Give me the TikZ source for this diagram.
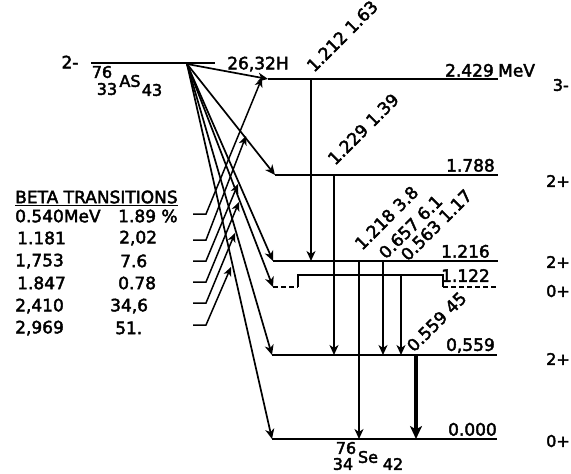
\documentclass[tikz,border=0pt]{standalone}
\usepackage{fontspec}
\setmainfont{DejaVu Sans}
\newfontfamily\lett{DejaVu Sans}[FakeBold=2.5]
\usetikzlibrary{arrows.meta}
\begin{document}
\begin{tikzpicture}[x=1pt,y=-1pt,
  lvl/.style={line width=1.7pt},
  dlvl/.style={line width=1.7pt,dash pattern=on 5pt off 3pt},
  arr/.style={line width=1.7pt,-{Stealth[length=10pt,width=9pt,inset=3pt]}},
  thickarr/.style={line width=3.2pt,-{Stealth[length=13pt,width=12pt,inset=3.5pt]}},
  parr/.style={line width=1.5pt,-{Stealth[length=9pt,width=8pt,inset=2.5pt]}},
  lbl/.style={font=\lett\fontsize{17}{17}\selectfont,inner sep=0pt},
  jl/.style={font=\lett\fontsize{16}{16}\selectfont,inner sep=0pt,anchor=east},
  sml/.style={font=\lett\fontsize{16}{16}\selectfont,inner sep=0pt},
  rl/.style={font=\lett\fontsize{17}{17}\selectfont,inner sep=0pt,rotate=45,anchor=base west}]
\useasboundingbox (0,0) rectangle (571,474);
% ---- parent level
\coordinate (P0) at (91,63);
\coordinate (P1) at (215,63);
\coordinate (As) at (187,64);
\draw[lvl] (P0) -- (P1);
\node[lbl] (spinP) at (70,62) {2-};
\node[sml] (m76) at (102,72) {76};
\node[sml] (z33) at (107,89) {33};
\node[sml] (sAs) at (130,81) {AS};
\node[sml] (n43) at (152,90) {43};
\node[lbl] (half) at (258,64) {26,32H};
% ---- daughter levels
\coordinate (A0) at (268,79);  \coordinate (A1) at (498,79);
\coordinate (B0) at (275,175); \coordinate (B1) at (498,175);
\coordinate (C0) at (273,261); \coordinate (C1) at (498,261);
\coordinate (D0) at (273,287); \coordinate (D1) at (298,287);
\coordinate (D2) at (298,275); \coordinate (D3) at (443,275);
\coordinate (D4) at (443,287); \coordinate (D5) at (498,287);
\coordinate (E0) at (272,355); \coordinate (E1) at (497,355);
\coordinate (F0) at (272,439); \coordinate (F1) at (497,439);
\draw[lvl] (A0) -- (A1);
\draw[lvl] (B0) -- (B1);
\draw[lvl] (C0) -- (C1);
\draw[dlvl] (D0) -- (D1);
\draw[lvl] (D1) -- (D2) -- (D3) -- (D4);
\draw[dlvl] (D4) -- (D5);
\draw[lvl] (E0) -- (E1);
\draw[lvl] (F0) -- (F1);
% level labels
\node[lbl,anchor=south east] (eA) at (494,77) {2.429};
\node[lbl,anchor=south west] (mev) at (498,77) {MeV};
\node[lbl,anchor=south east] (eB) at (495,172) {1.788};
\node[lbl,anchor=south east] (eC) at (490,258) {1.216};
\node[lbl,anchor=south east] (eD) at (490,282) {1.122};
\node[lbl,anchor=south east] (eE) at (495,353) {0,559};
\node[lbl,anchor=south east] (eF) at (497,436) {0.000};
\node[jl] (jA) at (569,85) {3-};
\node[jl] (jB) at (570,181) {2+};
\node[jl] (jC) at (570,262) {2+};
\node[jl] (jD) at (570,291) {0+};
\node[jl] (jE) at (570,359) {2+};
\node[jl] (jF) at (570,441) {0+};
% Se label
\node[sml] (m76b) at (346,448) {76};
\node[sml] (z34) at (343,464) {34};
\node[sml] (sSe) at (368,457) {Se};
\node[sml] (n42) at (393,464) {42};
% ---- beta arrows
\draw[arr] (As) -- (A0);
\draw[arr] (As) -- (B0);
\draw[arr] (As) -- (C0);
\draw[arr] (As) -- (D0);
\draw[arr] (As) -- (E0);
\draw[arr] (As) -- (F0);
% ---- gamma arrows
\coordinate (g1a) at (311,79);  \coordinate (g1b) at (311,261);
\coordinate (g2a) at (334,175); \coordinate (g2b) at (334,355);
\coordinate (g3a) at (359,261); \coordinate (g3b) at (359,439);
\coordinate (g4a) at (383,261); \coordinate (g4b) at (383,355);
\coordinate (g5a) at (401,275); \coordinate (g5b) at (401,355);
\coordinate (g6a) at (416,355); \coordinate (g6b) at (416,439);
\draw[arr] (g1a) -- (g1b);
\draw[arr] (g2a) -- (g2b);
\draw[arr] (g3a) -- (g3b);
\draw[arr] (g4a) -- (g4b);
\draw[arr] (g5a) -- (g5b);
\draw[thickarr] (g6a) -- (g6b);
% gamma labels
\node[rl] (l1) at (314,73) {1.212 1.63};
\node[rl] (l2) at (335,166) {1.229 1.39};
\node[rl] (l3) at (362,251) {1.218 3.8};
\node[rl] (l4) at (386,260) {0.657 6.1};
\node[rl] (l5) at (408,262) {0.563 1.17};
\node[rl] (l6) at (414,353) {0.559 45};
% ---- table
\node[lbl,anchor=west] (bt) at (15,197) {BETA TRANSITIONS};
\draw[line width=1.4pt] ([yshift=-2pt]bt.south west) -- ([yshift=-2pt]bt.south east);
\node[lbl,anchor=west] (e1) at (15,216) {0.540MeV};
\node[lbl,anchor=west] (e2) at (17,238) {1.181};
\node[lbl,anchor=west] (e3) at (15,261) {1,753};
\node[lbl,anchor=west] (e4) at (17,283) {1.847};
\node[lbl,anchor=west] (e5) at (15,306) {2,410};
\node[lbl,anchor=west] (e6) at (15,328) {2,969};
\node[lbl,anchor=west] (p1) at (118,216) {1.89 \%};
\node[lbl,anchor=west] (p2) at (119,238) {2,02};
\node[lbl,anchor=west] (p3) at (120,261) {7.6};
\node[lbl,anchor=west] (p4) at (118,283) {0.78};
\node[lbl,anchor=west] (p5) at (110,306) {34,6};
\node[lbl,anchor=west] (p6) at (115,328) {51.};
% pointers
\coordinate (r1) at (193,214); \coordinate (k1) at (206,214); \coordinate (t1) at (262,78);
\coordinate (r2) at (193,240); \coordinate (k2) at (206,240); \coordinate (t2) at (246,136);
\coordinate (r3) at (193,261); \coordinate (k3) at (206,261); \coordinate (t3) at (238,184);
\coordinate (r4) at (193,282); \coordinate (k4) at (206,282); \coordinate (t4) at (239,202);
\coordinate (r5) at (193,303); \coordinate (k5) at (206,303); \coordinate (t5) at (235,233);
\coordinate (r6) at (193,325); \coordinate (k6) at (206,325); \coordinate (t6) at (231,267);
\draw[parr] (r1) -- (k1) -- (t1);
\draw[parr] (r2) -- (k2) -- (t2);
\draw[parr] (r3) -- (k3) -- (t3);
\draw[parr] (r4) -- (k4) -- (t4);
\draw[parr] (r5) -- (k5) -- (t5);
\draw[parr] (r6) -- (k6) -- (t6);
\end{tikzpicture}
\end{document}
